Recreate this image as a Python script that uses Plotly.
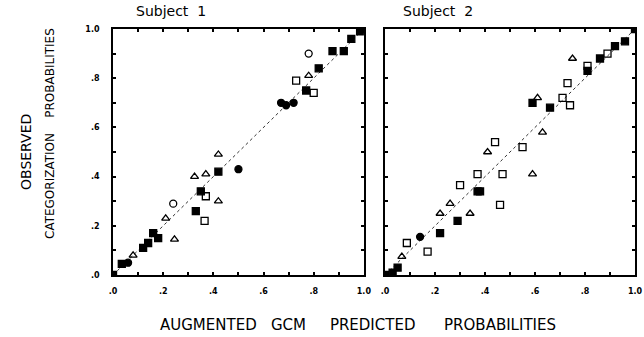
import plotly.graph_objects as go

# ---- data ----
diag = [0.0, 1.0]

s1_fsq_x = [0.0, 0.035, 0.12, 0.14, 0.16, 0.18, 0.33, 0.35, 0.42, 0.77, 0.82, 0.875, 0.92, 0.95, 0.985, 1.0]
s1_fsq_y = [0.0, 0.045, 0.11, 0.13, 0.17, 0.15, 0.26, 0.34, 0.42, 0.75, 0.84, 0.91, 0.91, 0.96, 0.99, 1.0]
s1_osq_x = [0.365, 0.37, 0.73, 0.80]
s1_osq_y = [0.22, 0.32, 0.79, 0.74]
s1_otri_x = [0.08, 0.21, 0.245, 0.325, 0.37, 0.42, 0.42, 0.78]
s1_otri_y = [0.08, 0.23, 0.145, 0.40, 0.41, 0.30, 0.49, 0.81]
s1_ocir_x = [0.24, 0.78]
s1_ocir_y = [0.29, 0.90]
s1_fcir_x = [0.06, 0.50, 0.67, 0.69, 0.72]
s1_fcir_y = [0.05, 0.43, 0.70, 0.69, 0.70]

s2_fsq_x = [0.0, 0.03, 0.05, 0.22, 0.29, 0.37, 0.38, 0.59, 0.66, 0.81, 0.86, 0.92, 0.96, 1.0]
s2_fsq_y = [0.0, 0.01, 0.03, 0.17, 0.22, 0.34, 0.34, 0.70, 0.68, 0.83, 0.88, 0.93, 0.95, 1.0]
s2_fcir_x = [0.14]
s2_fcir_y = [0.155]
s2_osq_x = [0.087, 0.17, 0.30, 0.37, 0.47, 0.46, 0.44, 0.55, 0.71, 0.73, 0.74, 0.81, 0.89]
s2_osq_y = [0.13, 0.095, 0.365, 0.41, 0.41, 0.285, 0.54, 0.52, 0.72, 0.78, 0.69, 0.85, 0.90]
s2_otri_x = [0.067, 0.22, 0.26, 0.34, 0.41, 0.59, 0.61, 0.63, 0.75]
s2_otri_y = [0.075, 0.25, 0.29, 0.25, 0.50, 0.41, 0.72, 0.58, 0.88]

tick_vals = [0.0, 0.2, 0.4, 0.6, 0.8, 1.0]
tick_text = [".0", ".2", ".4", ".6", ".8", "1.0"]

fig = go.Figure()

def add_panel(xa, ya, series):
    fig.add_trace(go.Scatter(x=diag, y=diag, mode="lines", xaxis=xa, yaxis=ya,
                             line=dict(color="#333", width=1, dash="dot"),
                             showlegend=False, hoverinfo="skip"))
    for xs, ys, sym in series:
        fig.add_trace(go.Scatter(x=xs, y=ys, mode="markers", xaxis=xa, yaxis=ya,
                                 marker=dict(symbol=sym, size=7, color="black",
                                             line=dict(color="black", width=1.3)),
                                 showlegend=False))

add_panel("x", "y", [
    (s1_fsq_x, s1_fsq_y, "square"),
    (s1_osq_x, s1_osq_y, "square-open"),
    (s1_otri_x, s1_otri_y, "triangle-up-open"),
    (s1_ocir_x, s1_ocir_y, "circle-open"),
    (s1_fcir_x, s1_fcir_y, "circle"),
])
add_panel("x2", "y2", [
    (s2_fsq_x, s2_fsq_y, "square"),
    (s2_osq_x, s2_osq_y, "square-open"),
    (s2_otri_x, s2_otri_y, "triangle-up-open"),
    (s2_fcir_x, s2_fcir_y, "circle"),
])

tickfont = dict(family="DejaVu Sans", size=8, color="black", weight="bold")
axis_common = dict(range=[0, 1], tickvals=tick_vals, ticktext=tick_text,
                   ticks="inside", ticklen=3, tickwidth=1.5, tickcolor="black",
                   minor=dict(dtick=0.1, tick0=0, ticks="inside", ticklen=3,
                              tickwidth=1.5, tickcolor="black"),
                   showline=True, linecolor="black", linewidth=1.8, mirror="ticks",
                   showgrid=False, zeroline=False, tickfont=tickfont, fixedrange=True,
                   automargin=False)

fig.update_layout(
    width=644, height=337,
    margin=dict(l=0, r=0, t=0, b=0),
    paper_bgcolor="white", plot_bgcolor="white",
    xaxis=dict(domain=[0.1755, 0.565], anchor="y", ticklabelstandoff=8, **axis_common),
    yaxis=dict(domain=[0.184, 0.914], anchor="x", ticklabelstandoff=10, **axis_common),
    xaxis2=dict(domain=[0.598, 0.986], anchor="y2", ticklabelstandoff=8, **axis_common),
    yaxis2=dict(domain=[0.184, 0.914], anchor="x2", showticklabels=False, **axis_common),
    font=dict(family="DejaVu Sans", color="black"),
)

def ann(size):
    return dict(showarrow=False, xref="paper", yref="paper",
                font=dict(family="DejaVu Sans", size=size, color="black"))

fig.add_annotation(text="Subject&nbsp;&nbsp;1", x=134/644, y=1-11/337,
                   xanchor="left", yanchor="middle", **ann(14))
fig.add_annotation(text="Subject&nbsp;&nbsp;2", x=401/644, y=1-11/337,
                   xanchor="left", yanchor="middle", **ann(14))
fig.add_annotation(text="OBSERVED", x=26/644, y=1-152/337, textangle=-90,
                   xanchor="center", yanchor="middle", **ann(14))
fig.add_annotation(text="CATEGORIZATION" + "&nbsp;" * 4 + "PROBABILITIES",
                   x=50/644, y=1-133/337, textangle=-90,
                   xanchor="center", yanchor="middle", **ann(12))
fig.add_annotation(text="AUGMENTED" + "&nbsp;" * 3 + "GCM" + "&nbsp;" * 5 + "PREDICTED"
                        + "&nbsp;" * 6 + "PROBABILITIES",
                   x=158/644, y=1-325/337, xanchor="left", yanchor="middle", **ann(15))

fig.write_html("out.html", config={"displayModeBar": False},
               post_script="document.body.style.margin='0';")
